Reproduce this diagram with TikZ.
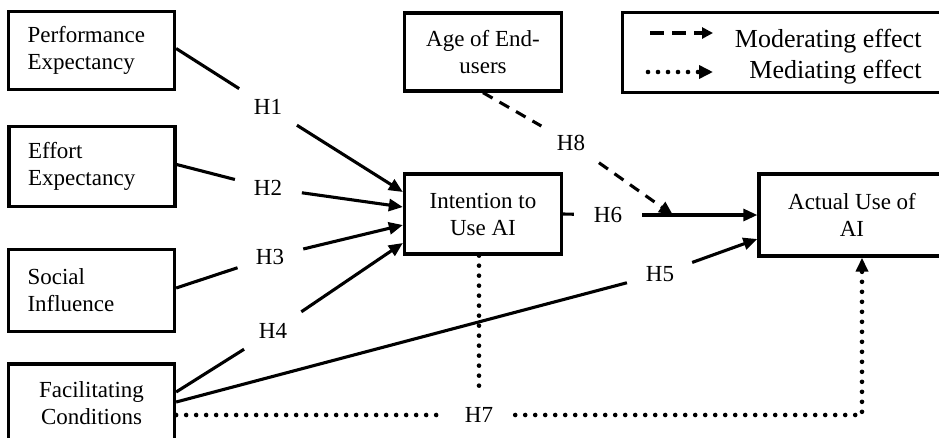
\documentclass[tikz,border=0pt]{standalone}
\usepackage{fontspec}
\setmainfont{Liberation Serif}
\usetikzlibrary{arrows.meta}
\begin{document}
\begin{tikzpicture}[x=1pt,y=-1pt,
  box/.style={draw, line width=3.3pt, inner sep=0pt, font=\fontsize{23}{27}\selectfont},
  lbox/.style={box, text width=128pt, inner xsep=19pt, align=left, minimum width=166pt},
  cbox/.style={box, align=center},
  conn/.style={line width=3.1pt},
  tip/.style={-{Triangle[length=14pt,width=12pt]}},
  arr/.style={conn, tip},
  hlab/.style={circle, minimum size=68pt, inner sep=0pt, font=\fontsize{23}{27}\selectfont},
  dotline/.style={line width=4.6pt, line cap=round, dash pattern=on 0pt off 10pt},
  dashline/.style={line width=3.1pt, dash pattern=on 11pt off 8pt},
  legtext/.style={anchor=base east, font=\fontsize{26}{30}\selectfont},
]
\useasboundingbox (0,0) rectangle (939,437);
\clip (0,0) rectangle (939,437);

% boxes
\node[lbox, minimum height=78pt] (pe) at (91.5,50.5) {Performance\\Expectancy};
\node[lbox, minimum height=80pt] (ee) at (92,166.5) {Effort\\Expectancy};
\node[lbox, minimum height=82pt] (si) at (91.5,290.5) {Social\\Influence};
\node[cbox, minimum width=166pt, minimum height=78pt] (fc) at (91.5,403) {Facilitating\\Conditions};
\node[cbox, minimum width=157pt, minimum height=78pt] (age) at (483,52) {Age of End-\\users};
\node[cbox, minimum width=157pt, minimum height=80pt] (int) at (483,214) {Intention to\\Use AI};
\node[cbox, minimum width=186pt, minimum height=82pt] (act) at (852,215) {Actual Use of\\AI};

% legend
\node[box, minimum width=335pt, minimum height=80pt] (leg) at (790,52.5) {};
\node[legtext] (lg1) at (925,47) {Moderating effect};
\node[legtext] (lg2) at (925,78) {Mediating effect};
\coordinate (l1a) at (650,33);
\coordinate (l1b) at (713,33);
\coordinate (l2a) at (648,72);
\coordinate (l2b) at (713,72);
\draw[dashline, dash pattern=on 14pt off 8pt, -{Triangle[length=11pt,width=11pt]}] (l1a) -- (l1b);
\draw[dotline, -{Triangle[length=14pt,width=13pt]}] (l2a) -- (l2b);

% hypothesis labels
\node[hlab] (h1) at (268,107) {H1};
\node[hlab] (h2) at (268,188) {H2};
\node[hlab] (h3) at (270,257) {H3};
\node[hlab] (h4) at (273,331) {H4};
\node[hlab] (h5) at (660,274) {H5};
\node[hlab] (h6) at (608,215) {H6};
\node[hlab, rectangle, minimum width=72pt, minimum height=50pt] (h7) at (479,415) {H7};
\node[hlab] (h8) at (571,143) {H8};

% H1-H4
\draw[conn] ([yshift=2pt]pe.east) -- (h1);
\draw[arr] (h1) -- ([yshift=22pt]int.west);
\draw[conn] ([yshift=2pt]ee.east) -- (h2);
\draw[arr] (h2) -- ([yshift=7pt]int.west);
\draw[conn] ([yshift=2.5pt]si.east) -- (h3);
\draw[arr] (h3) -- ([yshift=-11pt]int.west);
\draw[conn] ([yshift=11pt]fc.east) -- (h4);
\draw[arr] (h4) -- ([yshift=-29pt]int.west);

% H5
\draw[conn] ([yshift=1pt]fc.east) -- (h5);
\draw[arr] (h5) -- ([yshift=-24pt]act.west);

% H6
\draw[conn] (int.east) -- (h6);
\draw[arr] (h6) -- (act.west);

% H8 moderating
\coordinate (mod) at (673,215);
\draw[dashline] (age.south) -- (h8);
\draw[dashline, tip] (h8) -- (mod);

% H7 mediating
\coordinate (c7) at (862,415);
\draw[dotline] ([xshift=-4pt]int.south) -- (h7);
\draw[dotline] ([yshift=-12pt]fc.east) -- (h7);
\draw[dotline, tip] (h7) -- (c7) -- (c7 |- act.south);
\end{tikzpicture}
\end{document}
